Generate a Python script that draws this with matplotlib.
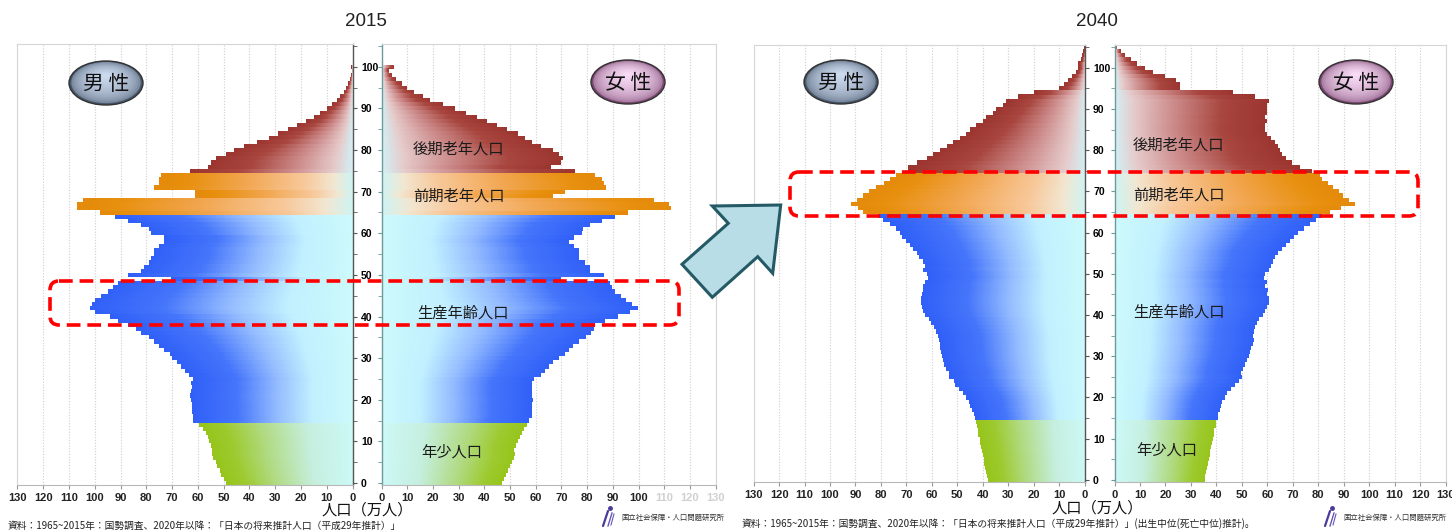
import numpy as np
import matplotlib
matplotlib.use("Agg")
import matplotlib.pyplot as plt
from matplotlib.colors import LinearSegmentedColormap, to_rgb
from matplotlib.path import Path
from matplotlib.patches import Ellipse, FancyBboxPatch, Polygon

# population by single year of age (index = age), unit: 10,000 persons
male_2015 = [49, 50, 51, 51.6, 52.4, 53, 54, 54.5, 54.5, 55,
             55.5, 56, 57, 58, 59.5, 62, 62, 62.3, 62.3, 62.3,
             62.7, 63, 62.7, 62.3, 62.7, 62, 63.5, 65, 66.5, 68,
             70, 71, 73, 75, 77, 79, 82, 84, 87, 91,
             94, 100, 102, 101, 100, 97.5, 95, 93, 91, 70.5,
             87, 82, 81, 79, 78, 77, 77, 75, 73, 73,
             78, 79, 82, 87, 92, 98, 107, 107, 104.5, 61,
             61, 77, 75, 75, 74.5, 63, 56, 55, 53, 49,
             46, 42, 37, 32.5, 29, 25, 21.5, 18, 15, 12.5,
             10, 8, 6, 4.8, 3.5, 2.5, 1.7, 1.1, 0.7, 0.4,
             0.5]
female_2015 = [46.8, 47.6, 48.4, 49.2, 50, 50.8, 51.5, 51.8, 51.6, 52.4,
               53, 54, 54.8, 55.5, 56.8, 57.5, 58.5, 58.7, 58.7, 58.7,
               59, 58.7, 58.4, 58.7, 58.7, 59.5, 62, 63.5, 65, 66.7,
               69, 71.4, 73, 74.6, 77, 79.4, 81.7, 82.5, 83, 87,
               92, 96.8, 99.7, 97.6, 95, 93, 91, 89.7, 89, 70,
               86.5, 81, 81, 79, 77, 77, 77, 75, 73, 75,
               78, 78.5, 81, 85.7, 91, 96, 112.7, 112, 106, 66.7,
               71.4, 87.3, 86.5, 85.7, 83, 75.4, 66, 70, 70.6, 69,
               66.7, 62, 58.7, 56, 53, 49, 45, 41, 37, 33,
               28.5, 24, 19, 16, 12.7, 10, 8, 5.5, 4, 3,
               5]
male_2040 = [38.1, 38.5, 38.8, 39.1, 39.4, 39.7, 40, 40.4, 40.7, 41,
             41.3, 41.7, 42, 42.3, 42.6, 43.1, 43.6, 44.2, 44.9, 45.5,
             46.5, 47.6, 49.2, 50.8, 51.5, 53.2, 53.2, 54.3, 55.1, 55.6,
             56, 56.4, 56.7, 57, 57.2, 57.7, 58.3, 59.3, 60.4, 61.2,
             62.8, 63.6, 64, 64.4, 64.4, 64, 63.6, 63.6, 62.8, 61.5,
             62, 63.6, 62.8, 63.6, 65.2, 66, 67.6, 68.4, 70, 71.6,
             72.4, 74, 76.4, 79, 81, 86.9, 89, 91.7, 89.3, 86.9,
             84.5, 82, 78.8, 76.4, 74, 69.2, 69.2, 66, 62, 59.6,
             57, 54, 51.6, 49, 46.8, 45, 42.8, 40, 38.8, 36,
             34.8, 32, 30.8, 26, 20, 10, 8.3, 6.7, 5, 3.5,
             2.7, 2.7, 1.6, 1, 0.6, 0.3]
female_2040 = [35.4, 35.7, 36, 36.3, 36.6, 37, 37.3, 37.6, 37.9, 38.3,
               38.6, 38.9, 39.2, 39.7, 40, 40.5, 40.8, 41.3, 41.9, 42.4,
               43.2, 44.3, 45.6, 47.2, 48.8, 50, 49.6, 50.4, 51.2, 52,
               52.8, 53.2, 53.6, 54.4, 54.8, 54.4, 54.8, 55.2, 56, 56.8,
               58.4, 59.2, 60, 60.8, 60.8, 60, 60.3, 59.2, 60, 58.7,
               59.2, 60.8, 61.6, 62.4, 63.2, 64, 65.6, 67.2, 68.8, 70.4,
               72, 74.4, 76.8, 79.2, 81.6, 84.8, 88.8, 94.4, 92, 89.6,
               88, 85.6, 84, 81.6, 80.8, 77.6, 72.8, 69.6, 67.2, 65.6,
               64.8, 64, 63.2, 61.6, 60, 59.2, 59.2, 60, 59.2, 60,
               60, 60, 60.8, 55.2, 46.4, 25.6, 25.6, 24, 20, 15.2,
               12, 8.8, 6.4, 4, 2.4, 0.8]

years = ["2015", "2040"]
group_names = ["年少人口", "生産年齢人口", "前期老年人口", "後期老年人口"]
group_start = [0, 15, 65, 75]

JP = ["Noto Sans CJK JP", "DejaVu Sans"]
NARROW = ["Liberation Sans Narrow", "Liberation Sans", "DejaVu Sans"]

cmaps = [
    LinearSegmentedColormap.from_list("young", [(0, "#cdf9f7"), (0.3, "#c6efdf"), (0.62, "#b0da7e"), (0.85, "#9dca2e"), (1, "#97c51c")]),
    LinearSegmentedColormap.from_list("work", [(0, "#ccfafc"), (0.25, "#c2f0ff"), (0.47, "#94bcff"), (0.72, "#4676fb"), (1, "#3060f8")]),
    LinearSegmentedColormap.from_list("old1", [(0, "#d0f4f4"), (0.1, "#f2e6d0"), (0.25, "#f8c89a"), (0.55, "#f2a650"), (0.85, "#e8900f"), (1, "#e58a0a")]),
    LinearSegmentedColormap.from_list("old2", [(0, "#d3eff4"), (0.12, "#e6cbcb"), (0.35, "#d09292"), (0.7, "#a8463f"), (1, "#9c3530")]),
]


def draw_pyramid_side(ax, values):
    vals = np.asarray(values, dtype=float)
    ages = np.arange(len(vals))
    bounds = group_start + [len(vals)]
    xs = np.linspace(0, 130, 1301)
    for g, cmap in enumerate(cmaps):
        sel = (ages >= bounds[g]) & (ages < bounds[g + 1])
        a, v = ages[sel], vals[sel]
        bars = ax.barh(a, v, height=1.0, color=cmap(1.0), linewidth=0, zorder=1)
        # gradient fill running from the centre line to the end of each bar
        t = np.clip(xs[None, :] / v[:, None], 0, 1)
        im = ax.imshow(cmap(t), extent=(0, 130, a[0] - 0.5, a[-1] + 0.5), origin="lower",
                       aspect="auto", interpolation="nearest", zorder=1.5)
        clip = Path.make_compound_path(*[p.get_path().transformed(p.get_patch_transform()) for p in bars])
        im.set_clip_path(clip, ax.transData)


def style_side(ax, side, faded_from=None):
    ax.set_ylim(-0.5, 105.5)
    ax.set_xlim((130, 0) if side == "male" else (0, 130))
    ax.set_xticks(range(0, 131, 10))
    ax.set_yticks(range(0, 101, 10))
    ax.set_yticks(range(0, 106, 5), minor=True)
    ax.grid(axis="x", color="#cfcfcf", linestyle=(0, (1, 1.5)), linewidth=0.8)
    ax.set_axisbelow(True)
    for s in ax.spines.values():
        s.set_color("#d6d6d6")
        s.set_linewidth(0.8)
    ax.spines["bottom"].set_color("#b8b8b8")
    ax.tick_params(axis="x", length=3, color="#999999", labelsize=8, pad=3, labelcolor="#222222")
    if side == "male":
        ax.yaxis.tick_right()
        ax.spines["right"].set_color("#555555")
        ax.spines["right"].set_linewidth(1.0)
        ax.tick_params(axis="y", which="both", length=3, color="#555555", labelsize=7.5, pad=3)
    else:
        ax.spines["left"].set_color("#6f9a9a")
        ax.spines["left"].set_linewidth(1.0)
        ax.tick_params(axis="y", which="both", length=3, color="#6f9a9a", labelleft=False)
    for lab in ax.get_xticklabels() + ax.get_yticklabels():
        lab.set_fontfamily(NARROW)
        lab.set_fontweight("bold")
    if faded_from is not None:
        for tick, lab in zip(ax.get_xticks(), ax.get_xticklabels()):
            if tick >= faded_from:
                lab.set_color("#d0d0d0")


W, H = 1452, 530
fig = plt.figure(figsize=(W / 100, H / 100), dpi=100)
fig.patch.set_facecolor("white")


def px_axes(x0, x1, ytop, ybot):
    return fig.add_axes([x0 / W, (H - ybot) / H, (x1 - x0) / W, (ybot - ytop) / H])


panels = [
    dict(male=male_2015, female=female_2015, mx=(17.4, 352.6), fx=(381.5, 715.6), y=(44, 485), faded=110,
         labels=[(30, 80.2), (30, 69.0), (31.5, 40.8), (27.4, 7.3)]),
    dict(male=male_2040, female=female_2040, mx=(753.6, 1084.7), fx=(1114.5, 1445.6), y=(45, 482), faded=None,
         labels=[(25.1, 81.3), (25.1, 69.2), (25.1, 40.8), (20.7, 7.3)]),
]

for p in panels:
    axm = px_axes(p["mx"][0], p["mx"][1], p["y"][0], p["y"][1])
    axf = px_axes(p["fx"][0], p["fx"][1], p["y"][0], p["y"][1])
    draw_pyramid_side(axm, p["male"])
    draw_pyramid_side(axf, p["female"])
    style_side(axm, "male")
    style_side(axf, "female", p["faded"])
    # group names, drawn from the oldest group down
    for name, (lx, ly) in zip(group_names[::-1], p["labels"]):
        axf.text(lx, ly, name, ha="center", va="center", fontsize=11, family=JP, color="#1a1a1a", zorder=5)

# overlay in pixel coordinates for titles, badges, arrow, boxes and notes
ov = fig.add_axes([0, 0, 1, 1], facecolor="none")
ov.set_xlim(0, W)
ov.set_ylim(H, 0)
ov.axis("off")

for cx, title in zip([366, 1097], years):
    ov.text(cx, 21, title, ha="center", va="center", fontsize=13.5, family=["Liberation Sans", "DejaVu Sans"], color="#222222")
for cx, cy in [(367, 515), (1097, 513)]:
    ov.text(cx, cy, "人口（万人）", ha="center", va="baseline", fontsize=11, family=JP, color="#111111")


def badge(cx, cy, text, rim, light):
    rim_c, light_c = np.array(to_rgb(rim)), np.array(to_rgb(light))
    n = 16
    for i in range(n):
        f = 1 - i / n
        k = (i / (n - 1)) ** 0.35
        col = rim_c * (1 - k) + light_c * k
        ov.add_patch(Ellipse((cx, cy - (1 - f) * 8), 74 * f, 44 * f, facecolor=col, edgecolor="none", zorder=3))
    ov.add_patch(Ellipse((cx, cy), 74, 44, facecolor="none", edgecolor="#333333", linewidth=1.0, zorder=4))
    ov.text(cx, cy + 1, text, ha="center", va="center", fontsize=15, family=JP, color="#111111", zorder=5)


badge(106, 83, "男 性", "#46566c", "#cddbef")
badge(628, 82, "女 性", "#7a4670", "#fadcf7")
badge(841, 82, "男 性", "#46566c", "#cddbef")
badge(1356, 82, "女 性", "#7a4670", "#fadcf7")

# arrow between the two years
arrow = [(780.7, 205), (712.3, 206), (728.3, 223.3), (682, 264.3), (712.3, 297.3), (757.7, 256.7), (772.7, 273.3)]
ov.add_patch(Polygon(arrow, closed=True, facecolor="#b8dde6", edgecolor="#245a66", linewidth=2.2, joinstyle="miter", zorder=6))

# red dashed highlight boxes
for x0, y0, x1, y1 in [(50, 281, 679, 325), (790, 172, 1418, 216)]:
    ov.add_patch(FancyBboxPatch((x0, y0), x1 - x0, y1 - y0, boxstyle="round,pad=0,rounding_size=9",
                                facecolor="none", edgecolor="#ff0000", linewidth=2.6,
                                linestyle=(0, (3.8, 1.9)), zorder=7))

note = "資料：1965~2015年：国勢調査、2020年以降：「日本の将来推計人口（平成29年推計）」"
ov.text(8, 529, note, ha="left", va="baseline", fontsize=7, family=JP, color="#222222")
ov.text(742, 527, note + "(出生中位(死亡中位)推計)。", ha="left", va="baseline", fontsize=7, family=JP, color="#222222")

for lx in [603, 1325]:
    ov.plot([lx, lx + 5], [526, 511], color="#4b3a9a", linewidth=1.6, solid_capstyle="round")
    ov.plot([lx + 5, lx + 9], [526, 513], color="#6a55b8", linewidth=1.0)
    ov.plot([lx + 8, lx + 11], [525, 514], color="#6a55b8", linewidth=0.8)
    ov.plot([lx + 6.5], [508], marker="o", markersize=2.5, color="#4b3a9a")
    ov.text(lx + 18, 518, "国立社会保障・人口問題研究所", ha="left", va="center", fontsize=5.3, family=JP, color="#333333")

fig.savefig("out.png", dpi=100)
